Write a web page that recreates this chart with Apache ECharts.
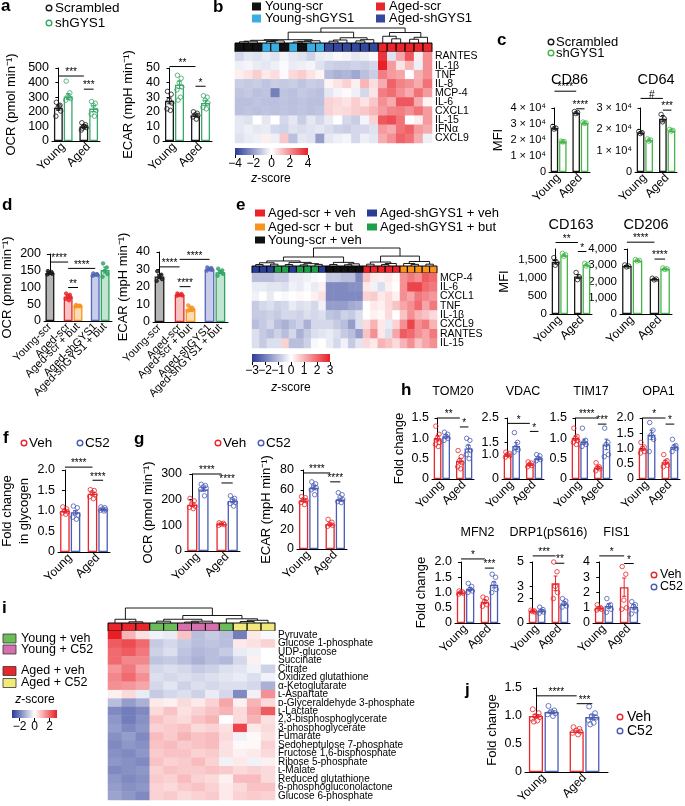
<!DOCTYPE html>
<html>
<head>
<meta charset="utf-8">
<script src="https://cdn.jsdelivr.net/npm/echarts@6/dist/echarts.min.js"></script>
<style>
  html, body { margin: 0; background: #fff; }
  #chart { width: 685px; height: 806px; }
</style>
</head>
<body>
<div id="chart"></div>
<script>
const FONT = 'Liberation Sans, Arial, Helvetica, sans-serif';
const BLK = '#1a1a1a', GRN = '#3aa86a', CGRN = '#45b64a', RED = '#e8262b', BLU = '#4a5db3';
const HEAT = ['#2b3c97', '#ffffff', '#e81f27'];

// ---------- bar chart data ----------
const ageGroups = ['Young', 'Aged'];

// a: Scrambled / shGYS1, young then aged
const aOcrMean = [228, 305, 100, 222];
const aOcrSem = [18, 20, 10, 20];
const aOcrDots = [[265, 245, 228, 205, 170, 240], [410, 330, 305, 290, 280, 300], [125, 112, 100, 92, 75, 100, 88], [270, 258, 245, 210, 185, 170]];
const aOcrSig = [[0, 2, 445, '***'], [2, 3, 355, '***']];
const aEcarMean = [27.5, 38.5, 17.5, 26];
const aEcarSem = [2, 2.5, 0.8, 1.8];
const aEcarDots = [[34, 32, 28, 26, 22, 21], [45, 43, 40, 37, 35, 30, 28], [20, 19, 18, 17.5, 16.5, 15], [31, 30, 28, 26, 23, 22]];
const aEcarSig = [[0, 2, 51, '**'], [2, 3, 37.5, '*']];

// c: MFI
const cd86Mean = [27500, 19000, 37000, 30700];
const cd86Sem = [800, 300, 500, 400];
const cd86Dots = [[28500, 27500, 26800], [19300, 19000, 18800], [37800, 37200, 36500], [31200, 30700, 30400]];
const cd86Sig = [[0, 2, 50500, '****'], [2, 3, 39500, '****']];
const cd64Mean = [18500, 15000, 25000, 19500];
const cd64Sem = [500, 500, 1500, 500];
const cd64Dots = [[19000, 18500, 18000], [15500, 15000, 14500], [27000, 25000, 23500], [20000, 19500, 19200]];
const cd64Sig = [[0, 2, 34500, '#'], [2, 3, 29000, '***']];
const cd163Mean = [1450, 1630, 1040, 1360];
const cd163Sem = [60, 30, 50, 20];
const cd163Dots = [[1560, 1420, 1350], [1680, 1640, 1600], [1150, 1030, 950], [1400, 1370, 1330]];
const cd163Sig = [[0, 2, 1980, '**'], [2, 3, 1730, '*']];
const cd206Mean = [2950, 3300, 2150, 2780];
const cd206Sem = [30, 20, 30, 20];
const cd206Dots = [[3020, 2950, 2900], [3350, 3300, 3270], [2200, 2150, 2100], [2830, 2780, 2750]];
const cd206Sig = [[0, 2, 4420, '****'], [2, 3, 3380, '****']];

// d: five treatment groups
const dLabels = ['Young-scr', 'Aged-scr', 'Aged-scr + but', 'Aged-shGYS1', 'Aged-shGYS1 + but'];
const dOcrMean = [143, 73, 45, 138, 152];
const dOcrSem = [3, 5, 2, 2, 9];
const dOcrDots = [[149, 146, 143, 141, 139], [82, 78, 74, 70, 66, 62], [48, 46, 45, 44, 43], [142, 140, 138, 137, 135], [172, 160, 150, 140, 132]];
const dOcrSig = [[0, 1, 176, '****'], [1, 3, 157, '****'], [1, 2, 100, '**']];
const dEcarMean = [26, 15.5, 7.5, 30, 28.5];
const dEcarSem = [1.2, 0.4, 1.5, 0.4, 0.8];
const dEcarDots = [[29, 27, 26, 24.5, 23.5], [16.3, 16, 15.5, 15.2, 15], [9.5, 8, 7.5, 7, 6.5], [31.2, 30.8, 30.3, 29.8, 29.4, 30], [30.5, 29.5, 28.5, 27.5, 26.5]];
const dEcarSig = [[0, 1, 31.5, '****'], [1, 3, 35.8, '****'], [1, 2, 20.2, '****']];

// f, g: Veh / C52
const fMean = [1.0, 0.97, 1.42, 1.04];
const fSem = [0.03, 0.04, 0.035, 0.015];
const fDots = [[1.1, 1.05, 1.0, 0.98, 0.95, 0.92], [1.12, 1.08, 0.95, 0.9, 0.85, 0.8], [1.52, 1.5, 1.45, 1.4, 1.35, 1.3], [1.1, 1.08, 1.05, 1.03, 1.02, 1.0]];
const fSig = [[0, 2, 2.07, '****'], [2, 3, 1.75, '****']];
const gOcrMean = [180, 240, 105, 195];
const gOcrSem = [7, 7, 2, 7];
const gOcrDots = [[205, 195, 185, 175, 170, 165], [260, 255, 250, 245, 240, 215], [110, 108, 105, 103, 100], [215, 205, 200, 190, 185, 175]];
const gOcrSig = [[0, 2, 300, '****'], [2, 3, 265, '****']];
const gEcarMean = [49, 62, 25, 50];
const gEcarSem = [1.2, 2, 1.2, 1.5];
const gEcarDots = [[53, 52, 50, 49, 47, 45], [68, 66, 64, 62, 60, 55], [30, 27, 25, 24, 23], [57, 55, 52, 50, 48, 47]];
const gEcarSig = [[0, 2, 77, '****'], [2, 3, 68, '****']];

// h: mitochondrial proteins
const tom20Mean = [1.0, 1.05, 0.45, 0.75], tom20Sem = [0.07, 0.04, 0.06, 0.08];
const tom20Dots = [[1.3, 1.1, 1.0, 0.9, 0.85, 0.8], [1.15, 1.1, 1.05, 1.0, 0.95], [0.7, 0.55, 0.45, 0.4, 0.3, 0.25], [1.0, 0.95, 0.8, 0.7, 0.6, 0.5]];
const tom20Sig = [[0, 2, 1.5, '**'], [2, 3, 1.28, '*']];
const vdacMean = [0.97, 1.35, 0.6, 0.85], vdacSem = [0.04, 0.14, 0.04, 0.05];
const vdacDots = [[1.1, 1.05, 1.0, 0.95, 0.9], [1.9, 1.5, 1.3, 1.2, 1.1], [0.7, 0.65, 0.6, 0.55, 0.5], [1.0, 0.95, 0.85, 0.8, 0.75]];
const vdacSig = [[0, 2, 2.28, '*'], [2, 3, 1.95, '*']];
const tim17Mean = [1.0, 0.92, 0.28, 0.85], tim17Sem = [0.06, 0.06, 0.03, 0.13];
const tim17Dots = [[1.25, 1.05, 1.0, 0.95, 0.9, 0.85], [1.25, 0.95, 0.9, 0.85, 0.8], [0.4, 0.3, 0.28, 0.25, 0.2], [1.25, 0.9, 0.85, 0.6, 0.55]];
const tim17Sig = [[0, 2, 1.5, '****'], [2, 3, 1.35, '***']];
const opa1Mean = [1.0, 1.45, 0.55, 1.05], opa1Sem = [0.07, 0.15, 0.07, 0.07];
const opa1Dots = [[1.2, 1.05, 1.0, 0.9, 0.85], [1.85, 1.6, 1.45, 1.3, 0.9], [0.8, 0.6, 0.55, 0.45, 0.4], [1.3, 1.1, 1.05, 1.0, 0.9]];
const opa1Sig = [[0, 2, 2.0, '*'], [2, 3, 1.8, '*']];
const mfn2Mean = [1.0, 1.12, 0.7, 1.25], mfn2Sem = [0.02, 0.05, 0.06, 0.1];
const mfn2Dots = [[1.05, 1.02, 1.0, 0.98, 0.95], [1.3, 1.2, 1.1, 1.05, 1.0], [0.85, 0.8, 0.7, 0.6, 0.55], [1.6, 1.5, 1.3, 1.1, 1.0]];
const mfn2Sig = [[0, 2, 2.1, '*'], [2, 3, 1.8, '***']];
const drp1Mean = [0.98, 1.02, 3.25, 1.6], drp1Sem = [0.03, 0.08, 0.6, 0.15];
const drp1Dots = [[1.05, 1.0, 0.95, 0.9], [1.3, 1.1, 1.0, 0.9, 0.8], [5.0, 4.2, 3.0, 2.5, 2.0], [2.0, 1.8, 1.6, 1.4, 1.3]];
const drp1Sig = [[0, 2, 5.5, '***'], [2, 3, 4.9, '**']];
const fis1Mean = [1.0, 1.12, 2.35, 1.05], fis1Sem = [0.07, 0.15, 0.6, 0.15];
const fis1Dots = [[1.2, 1.0, 0.95, 0.9, 0.85], [1.6, 1.2, 1.1, 0.9, 0.7], [3.7, 3.2, 1.5, 1.0, 0.9], [1.4, 1.2, 1.1, 0.8, 0.6]];
const fis1Sig = [[0, 2, 4.4, '*'], [2, 3, 3.9, '*']];

// j
const jMean = [1.0, 1.07, 0.72, 0.98], jSem = [0.025, 0.02, 0.015, 0.04];
const jDots = [[1.12, 1.05, 1.0, 0.98, 0.95, 0.92, 0.9], [1.18, 1.1, 1.08, 1.05, 1.03, 1.0], [0.8, 0.77, 0.74, 0.72, 0.7, 0.67], [1.17, 1.05, 1.0, 0.97, 0.93, 0.88, 0.85]];
const jSig = [[0, 2, 1.36, '****'], [2, 3, 1.22, '***']];

// ---------- heatmap data ----------
const bRows = ['RANTES', 'IL-1β', 'TNF', 'IL-8', 'MCP-4', 'IL-6', 'CXCL1', 'IL-15', 'IFNα', 'CXCL9'];
const bGroupNames = ['Young-scr', 'Young-shGYS1', 'Aged-scr', 'Aged-shGYS1'];
const bGroupColors = ['#111111', '#3aaee0', '#e8262b', '#33479e'];
const bGroups = [0, 0, 0, 1, 1, 0, 1, 0, 1, 1, 3, 3, 3, 3, 3, 3, 2, 2, 2, 2, 2, 2];
const bZ = [
  [-0.8, -0.5, -0.6, -0.4, -0.6, -0.2, -0.5, -0.6, -0.9, -0.4, -0.3, -0.1, -0.2, -0.5, -0.3, -0.1, 3.6, -0.6, 1.6, 3.0, 0.3, 2.0],
  [-0.3, -0.2, -0.4, -0.5, -0.3, -0.1, -0.4, -0.3, -0.2, -0.6, -0.9, -1.0, -1.0, -0.9, -1.0, -0.8, 4.0, 1.8, 0.5, 1.3, -0.3, 2.0],
  [0.3, 0.5, 0.9, 0.4, 0.6, 0.1, 0.7, 0.9, 0.5, 0.2, -1.4, -1.6, -1.5, -1.8, -1.3, -1.0, 2.3, 1.8, 1.6, 0.0, 1.4, 2.0],
  [-1.0, -1.1, -1.0, -1.2, -1.0, -1.1, -1.0, -1.2, -1.0, -1.1, 0.2, 0.5, 0.8, 0.3, 1.3, 0.6, 1.5, 2.8, 2.2, 2.0, 1.5, 2.5],
  [-1.2, -1.1, -1.3, -1.2, -2.6, -1.2, -1.3, -1.1, -1.2, -1.3, -0.5, -0.2, 0.1, -0.3, -0.8, 0.5, 2.3, 2.6, 2.0, 1.5, 2.5, 1.8],
  [-1.3, -1.3, -1.2, -1.3, -1.3, -1.2, -1.3, -1.2, -1.3, -1.3, 0.8, 0.7, 0.5, 0.9, 0.5, 1.0, 2.0, 1.5, 3.0, 3.0, 1.5, 0.2],
  [-1.3, -1.2, -1.3, -1.2, -1.3, -1.2, -1.3, -1.2, -1.3, -1.2, 0.8, 0.6, 0.7, 0.9, 1.0, 1.3, 1.8, 2.2, 2.3, 2.0, 2.5, 1.8],
  [-0.5, -0.6, 0.0, -0.5, 0.0, -0.8, -0.5, -1.0, -0.5, -0.8, -0.4, 0.0, -0.8, -1.0, -0.2, 0.8, 3.0, 3.2, 2.5, 0.0, 0.3, 1.8],
  [-0.5, -0.3, -0.5, -0.4, -0.8, -0.9, -0.6, -0.7, -0.6, -0.5, -0.7, -0.9, -1.0, -0.8, -0.8, -0.6, 1.8, 1.5, 2.5, 2.8, 1.8, 1.5],
  [-0.6, -0.4, -0.3, 0.3, -0.3, 1.0, -1.3, -0.5, -0.6, -2.0, -0.5, -0.3, -0.2, -0.8, -0.3, -0.5, 1.5, 2.0, 2.8, 2.5, 1.5, -0.3]
];
const bTree = [[[[[[0, 1, 0.08], 2, 0.12], [[3, 4, 0.1], 5, 0.14], 0.18], [[[6, 7, 0.07], 8, 0.11], 9, 0.15], 0.22],
  [[[10, 11, 0.12], 12, 0.2], [[13, 14, 0.14], 15, 0.22], 0.35], 0.72],
  [[16, [17, 18, 0.28], 0.45], [[19, 20, 0.25], 21, 0.38], 0.7], 1];
const bBarTicks = [-4, -2, 0, 2, 4];

const eRows = ['MCP-4', 'IL-6', 'CXCL1', 'TNF', 'IL-1β', 'CXCL9', 'RANTES', 'IL-15'];
const eGroupNames = ['Aged-scr + veh', 'Aged-scr + but', 'Young-scr + veh', 'Aged-shGYS1 + veh', 'Aged-shGYS1 + but'];
const eGroupColors = ['#ec2227', '#f7941d', '#111111', '#2a3d96', '#1ea04a'];
const eGroups = [3, 3, 3, 4, 4, 3, 4, 4, 4, 3, 2, 2, 2, 2, 2, 0, 0, 0, 0, 0, 1, 1, 1, 1, 1];
const eZ = [
  [-1.0, -1.0, -1.0, -0.8, -0.8, -0.3, -0.3, -0.2, -0.1, 0.0, -0.8, -0.8, -1.0, -1.0, -1.8, 0.8, 0.3, 0.2, 0.3, 0.1, 1.5, 1.8, 1.5, 2.2, 2.0],
  [-0.3, -0.3, -0.4, -0.4, -0.5, -0.2, -0.3, -0.1, -0.3, 0.2, -1.8, -1.8, -1.8, -1.7, -1.7, 0.3, -0.2, -0.5, 0.2, 0.0, 1.5, 2.5, 2.5, 2.0, 1.8],
  [-0.2, 0.0, -0.3, 0.0, -0.1, 0.0, 0.1, 0.0, 0.2, 0.4, -1.8, -1.8, -1.8, -1.8, -1.8, 0.6, 0.7, 0.3, 0.5, 0.2, 1.5, 1.2, 1.8, 1.6, 1.4],
  [-0.8, -0.6, -0.5, -0.7, -0.6, -0.3, -0.5, -0.4, -0.6, -0.2, -1.5, -1.5, -1.5, -1.3, -1.2, 0.0, 0.3, 0.2, 0.5, 0.8, 1.2, 1.5, 2.0, 1.2, 1.8],
  [-0.8, -0.8, -0.7, -0.8, -0.6, -0.6, -0.7, -0.5, -0.6, -0.5, -0.9, -1.0, -0.7, -0.8, -0.5, 0.0, 0.2, 0.1, 0.5, 0.0, 0.8, 1.5, 1.0, 0.8, 0.5],
  [-1.0, -0.8, -0.6, -1.0, -1.2, -0.9, -0.7, -1.2, -0.6, -0.6, -0.6, -0.8, -1.0, -1.5, -0.5, 0.5, 1.0, 0.3, -0.3, 0.6, 1.5, 2.5, 1.5, 1.8, 1.0],
  [-0.5, -0.8, -1.0, -0.7, -1.0, -0.6, -1.2, -0.8, -0.5, -0.4, -0.3, -0.5, -0.8, -1.0, -1.5, 0.8, 1.5, 0.3, -0.5, 1.2, 2.2, 2.0, 1.5, 1.2, 1.8],
  [-0.5, -0.8, -0.5, -0.5, 0.6, -1.0, -1.0, -0.7, -0.1, 0.0, -0.3, -0.6, -0.2, -0.8, -0.4, 0.5, 0.3, 1.0, 0.8, 0.5, 1.0, 1.5, 0.8, 1.2, 1.5]
];
const eTree = [[[[[0, 1, 0.08], [2, 3, 0.1], 0.18], [[4, 5, 0.08], [[6, 7, 0.06], [8, 9, 0.09], 0.13], 0.2], 0.28],
  [[10, 11, 0.08], [[12, 13, 0.07], 14, 0.12], 0.2], 0.5],
  [[[15, 16, 0.1], [[17, 18, 0.08], 19, 0.14], 0.22], [[20, [21, 22, 0.09], 0.14], [23, 24, 0.1], 0.25], 0.55], 1];
const eBarTicks = [-3, -2, -1, 0, 1, 2, 3];

const iRows = ['Pyruvate', 'Glucose 1-phosphate', 'UDP-glucose', 'Succinate', 'Citrate', 'Oxidized glutathione',
  'α-Ketoglutarate', 'ʟ-Aspartate', 'ᴅ-Glyceraldehyde 3-phosphate', 'ʟ-Lactate', '2,3-bisphosphoglycerate',
  '3-phosphoglycerate', 'Fumarate', 'Sedoheptulose 7-phosphate', 'Fructose 1,6-bisphosphate', 'Ribose 5-phosphate',
  'ʟ-Malate', 'Reduced glutathione', '6-phosphogluconolactone', 'Glucose 6-phosphate'];
const iGroupNames = ['Young + veh', 'Young + C52', 'Aged + veh', 'Aged + C52'];
const iGroupColors = ['#6cbd5a', '#d66fae', '#e8262b', '#f1ea7a'];
const iGroups = [2, 2, 2, 0, 0, 1, 1, 1, 0, 3, 3, 3];
const iZ = [
  [3.0, 1.0, 0.4, -0.2, -0.3, 0.8, -1.0, -0.8, -1.0, -2.0, 0.3, -0.1],
  [2.2, 2.4, 2.0, -0.8, -0.6, -0.8, -1.0, -0.9, -1.0, 0.3, 0.4, 0.6],
  [2.0, 2.2, 1.8, -0.7, -0.5, -0.9, -1.1, -1.0, -0.8, -0.3, -0.2, 0.0],
  [2.0, 1.6, 1.6, -0.9, -0.8, -1.0, -1.2, -1.0, -1.1, -0.6, 0.2, 0.0],
  [1.4, 1.8, 1.2, -0.6, -0.5, -0.6, -0.8, -0.7, -0.5, -0.4, -0.2, -0.7],
  [1.6, 2.0, 1.5, -0.5, -0.6, -0.5, -0.6, -0.5, -0.4, -0.3, -0.5, -0.2],
  [1.5, 1.4, 1.2, -0.6, -0.4, -0.7, -0.5, -0.6, -0.5, -0.5, -0.6, -1.2],
  [0.2, 0.5, -0.3, -0.8, -0.6, -0.5, -0.7, -0.3, -0.6, -1.8, -0.2, 1.5],
  [-1.0, -1.5, -1.2, 0.3, 0.2, 0.5, 0.3, 0.6, 1.2, 0.2, 1.0, 0.5],
  [-1.8, -2.0, -1.8, 0.5, 0.8, 0.4, 0.6, 0.8, 1.0, 0.5, 1.2, 2.2],
  [-1.6, -2.0, -1.7, 0.8, 0.6, 0.5, 0.8, 1.0, 0.0, 0.5, 1.0, 0.4],
  [-1.5, -1.8, -1.6, 0.6, 0.7, 0.8, 0.5, 0.6, 0.4, 2.5, 0.3, 0.5],
  [-1.7, -1.5, -1.8, 0.9, 0.7, 1.0, 0.8, 0.9, 0.5, -0.2, 0.1, 0.4],
  [-1.8, -1.6, -1.7, 0.8, 0.9, 0.7, 0.8, 0.9, 0.4, 0.1, 0.1, 0.6],
  [-1.7, -1.8, -1.6, 0.7, 0.8, 0.8, 0.6, 0.7, 0.4, 0.2, 0.3, 0.5],
  [-1.6, -1.7, -1.8, 0.8, 0.6, 0.7, 0.9, 0.6, -0.2, 0.3, -0.2, 0.2],
  [-1.8, -1.7, -1.6, 0.6, 0.8, 0.7, 0.7, 0.8, 0.7, 0.5, 0.6, 0.5],
  [-1.6, -1.8, -1.7, 0.7, 0.6, 0.9, 0.6, 0.5, 0.2, 0.9, 0.9, 0.5],
  [-1.5, -1.7, -1.6, 0.6, 0.5, 0.7, 0.8, 0.6, 0.3, 0.5, 0.8, 0.8],
  [-1.4, -1.6, -1.8, 0.6, 0.7, 0.5, 0.6, 0.7, 0.3, 0.6, 0.7, 0.6]
];
const iTree = [[0, [1, 2, 0.08], 0.25], [[[3, 4, 0.12], [[5, 6, 0.06], 7, 0.12], 0.25], [8, [[9, 10, 0.1], 11, 0.18], 0.28], 0.5], 1];
const iBarTicks = [-2, 0, 2];

// ---------- builders ----------
const grids = [], xAxes = [], yAxes = [], series = [], visualMaps = [], graphics = [];
const JIT = [-0.24, 0.2, -0.04, 0.28, -0.3, 0.1, -0.16];
const POS4 = [0, 1, 2.6, 3.6];
const POS5 = [0, 1.85, 2.85, 4.6, 5.6];

function addGrid(rect, xa, ya) {
  grids.push(Object.assign({ containLabel: false, outerBoundsMode: 'none' }, rect));
  xa.gridIndex = grids.length - 1;
  ya.gridIndex = grids.length - 1;
  xAxes.push(xa); yAxes.push(ya);
  return { xAxisIndex: xAxes.length - 1, yAxisIndex: yAxes.length - 1 };
}

function txt(x, y, text, o = {}) {
  graphics.push({ type: 'text', x, y, rotation: o.rot || 0, silent: true,
    style: { text, fill: o.color || '#000', font: (o.weight || 'normal') + ' ' + (o.size || 13) + 'px ' + FONT,
      align: o.align || 'left', verticalAlign: o.va || 'middle', rich: o.rich } });
}
function circ(x, y, color) {
  graphics.push({ type: 'circle', shape: { cx: x, cy: y, r: 2.8 }, silent: true, style: { fill: '#fff', stroke: color, lineWidth: 1.4 } });
}
function sq(x, y, w, h, color, stroke) {
  graphics.push({ type: 'rect', shape: { x, y, width: w, height: h }, silent: true, style: { fill: color, stroke: stroke || null, lineWidth: 0.8 } });
}

const fmt1 = v => v === 0 ? '0' : v.toFixed(1);
const fmtE4 = v => v === 0 ? '0' : (v / 1e4) + ' × 10⁴';
const fmtMinus = v => v < 0 ? '−' + (-v) : String(v);

function barPanel(p) {
  const pos = p.pos || POS4, xmin = p.xmin ?? -0.65, xmax = p.xmax ?? 4.25;
  const w = p.right - p.left, unit = w / (xmax - xmin);
  const lab = p.labelPos || [(pos[0] + pos[1]) / 2, (pos[2] + pos[3]) / 2];
  // blank labels at both ends keep ECharts from dropping the real first/last label
  const ax = addGrid({ left: p.left, top: p.top, width: w, height: p.bottom - p.top },
    { type: 'value', min: xmin, max: xmax, splitLine: { show: false }, axisTick: { show: false },
      axisLine: { show: true, onZero: false, lineStyle: { color: '#000', width: 1 } },
      axisLabel: { customValues: [xmin].concat(lab, [xmax]), rotate: 45, fontSize: p.xfs || 12, color: '#000', margin: 4,
        formatter: v => p.labels[lab.findIndex(q => Math.abs(q - v) < 1e-6)] || '' } },
    { type: 'value', min: 0, max: p.ymax, interval: p.yint, splitLine: { show: false },
      axisLine: { show: true, lineStyle: { color: '#000', width: 1 } },
      axisTick: { show: true, length: 3, lineStyle: { color: '#000' }, customValues: p.yTicks },
      axisLabel: { fontSize: p.yfs || 12.5, color: '#000', margin: 3, formatter: p.yfmt, customValues: p.yTicks,
        showMinLabel: true, showMaxLabel: true },
      name: p.yName || '', nameLocation: 'middle', nameRotate: 90,
      nameGap: p.yName ? p.left - p.nameX - (p.yName.includes('\n') ? 15 : 7) : 0,
      nameTextStyle: { fontSize: 13, color: '#000', lineHeight: 17, fontFamily: FONT } });
  const fill = p.fill || p.stroke.map(() => '#fff');
  series.push(Object.assign({ type: 'bar', barWidth: unit * 0.9, silent: true, z: 2,
    data: p.means.map((m, g) => ({ value: [pos[g], m], itemStyle: { color: fill[g], borderColor: p.stroke[g], borderWidth: 1.3 } })) }, ax));
  const dots = [];
  p.dots.forEach((arr, g) => arr.forEach((v, k) => dots.push({ value: [pos[g] + JIT[k % JIT.length] * 0.85, v],
    itemStyle: { color: p.filledDots ? p.stroke[g] : 'rgba(255,255,255,0)', borderColor: p.stroke[g], borderWidth: 1 } })));
  series.push(Object.assign({ type: 'scatter', symbolSize: p.dotSize || 4.5, clip: false, silent: true, z: 3, data: dots }, ax));
  series.push(Object.assign({ type: 'custom', silent: true, z: 4, clip: false,
    data: p.means.map((m, g) => [pos[g], m - p.sem[g], m + p.sem[g], g]),
    renderItem: (pr, api) => {
      const lo = api.coord([api.value(0), api.value(1)]), hi = api.coord([api.value(0), api.value(2)]);
      const c = p.stroke[api.value(3)], cw = unit * 0.22;
      const st = { stroke: c, lineWidth: 1 };
      return { type: 'group', children: [
        { type: 'line', shape: { x1: lo[0], y1: lo[1], x2: hi[0], y2: hi[1] }, style: st },
        { type: 'line', shape: { x1: hi[0] - cw, y1: hi[1], x2: hi[0] + cw, y2: hi[1] }, style: st },
        { type: 'line', shape: { x1: lo[0] - cw, y1: lo[1], x2: lo[0] + cw, y2: lo[1] }, style: st }] };
    } }, ax));
  const sigText = p.sig.map(s => s[3]);
  series.push(Object.assign({ type: 'custom', silent: true, z: 5, clip: false,
    data: p.sig.map((s, k) => [pos[s[0]], pos[s[1]], s[2], k]),
    renderItem: (pr, api) => {
      const a = api.coord([api.value(0), api.value(2)]), b = api.coord([api.value(1), api.value(2)]);
      return { type: 'group', children: [
        { type: 'line', shape: { x1: a[0], y1: a[1], x2: b[0], y2: b[1] }, style: { stroke: '#000', lineWidth: 1 } },
        { type: 'text', x: (a[0] + b[0]) / 2, y: a[1] + 1.5, style: { text: sigText[api.value(3)], fill: '#000',
          font: '10px ' + FONT, align: 'center', verticalAlign: 'bottom' } }] };
    } }, ax));
  if (p.title) txt(p.left + w / 2, p.titleY, p.title, { size: p.titleSize || 12.5, align: 'center' });
}

function dendro(node, links) {
  if (typeof node === 'number') return { x: node, h: 0 };
  const a = dendro(node[0], links), b = dendro(node[1], links);
  links.push([a.x, b.x, a.h, b.h, node[2]]);
  return { x: (a.x + b.x) / 2, h: node[2] };
}

function heatPanel(h) {
  const n = h.z[0].length, ymin = -h.stripH / h.dendH;
  const ax1 = addGrid({ left: h.left, top: h.top - h.stripH - h.dendH, width: h.width, height: h.stripH + h.dendH },
    { type: 'value', min: -0.5, max: n - 0.5, show: false }, { type: 'value', min: ymin, max: 1, show: false });
  const links = [];
  dendro(h.tree, links);
  series.push(Object.assign({ type: 'custom', silent: true, data: links,
    renderItem: (pr, api) => {
      const pts = [[api.value(0), api.value(2)], [api.value(0), api.value(4)], [api.value(1), api.value(4)], [api.value(1), api.value(3)]].map(q => api.coord(q));
      return { type: 'polyline', shape: { points: pts }, style: { stroke: '#000', fill: 'none', lineWidth: 0.9 } };
    } }, ax1));
  series.push(Object.assign({ type: 'custom', silent: true, data: h.groups.map((g, i) => [i, g]),
    renderItem: (pr, api) => {
      const a = api.coord([api.value(0) - 0.5, 0]), b = api.coord([api.value(0) + 0.5, ymin]);
      return { type: 'rect', shape: { x: a[0], y: a[1], width: b[0] - a[0], height: b[1] - a[1] },
        style: { fill: h.colors[api.value(1)], stroke: '#000', lineWidth: 1 } };
    } }, ax1));
  const ax2 = addGrid({ left: h.left, top: h.top, width: h.width, height: h.height },
    { type: 'category', data: h.z[0].map((v, i) => i), show: false },
    { type: 'category', data: h.rows, inverse: true, position: 'right', axisLine: { show: false }, axisTick: { show: false },
      axisLabel: { interval: 0, fontSize: h.labelFs, color: '#000', margin: 3, fontFamily: FONT } });
  const data = [];
  h.z.forEach((row, r) => row.forEach((v, c) => data.push([c, r, v])));
  visualMaps.push({ type: 'continuous', min: h.min, max: h.max, seriesIndex: series.length, show: false, inRange: { color: HEAT } });
  series.push(Object.assign({ type: 'heatmap', silent: true, data }, ax2));
  // colour bar: gradient grid background, integer steps as a category axis so every label shows
  const cb = h.bar, steps = [];
  for (let v = h.min; v <= h.max; v++) steps.push(cb.ticks.includes(v) ? fmtMinus(v) : '');
  addGrid({ left: cb.left, top: cb.top, width: cb.width, height: cb.height, show: true, borderWidth: 0,
    backgroundColor: new echarts.graphic.LinearGradient(0, 0, 1, 0, [{ offset: 0, color: HEAT[0] }, { offset: 0.5, color: HEAT[1] }, { offset: 1, color: HEAT[2] }]) },
    { type: 'category', data: steps, boundaryGap: false, axisLine: { show: false },
      axisTick: { show: true, length: 3, interval: (i, val) => val !== '', lineStyle: { color: '#000' } },
      axisLabel: { fontSize: 12, color: '#000', margin: 3, interval: 0 } },
    { type: 'value', show: false, min: 0, max: 1 });
  txt(cb.zx, cb.zy, '{i|z}-score', { size: 12, align: 'center', rich: { i: { fontStyle: 'italic', fontSize: 12, fontFamily: FONT } } });
}

// ---------- panels ----------
const SC = [BLK, GRN, BLK, GRN], SCc = [BLK, CGRN, BLK, CGRN], VC = [RED, BLU, RED, BLU];

barPanel({ left: 52, right: 100, top: 68, bottom: 141, ymax: 500, yint: 100, means: aOcrMean, sem: aOcrSem, dots: aOcrDots, sig: aOcrSig, stroke: SC, labels: ageGroups, yName: 'OCR (pmol min⁻¹)', nameX: 13 });
barPanel({ left: 163, right: 212, top: 68, bottom: 141, ymax: 50, yint: 10, means: aEcarMean, sem: aEcarSem, dots: aEcarDots, sig: aEcarSig, stroke: SC, labels: ageGroups, yName: 'ECAR (mpH min⁻¹)', nameX: 130 });

barPanel({ left: 549, right: 590, top: 108, bottom: 172, ymax: 40000, yint: 10000, yfmt: fmtE4, yfs: 11, means: cd86Mean, sem: cd86Sem, dots: cd86Dots, sig: cd86Sig, stroke: SCc, labels: ageGroups, title: 'CD86', titleY: 80, titleSize: 14.5, yName: 'MFI', nameX: 501 });
barPanel({ left: 635, right: 677, top: 108, bottom: 172, ymax: 30000, yint: 10000, yfmt: fmtE4, yfs: 11, means: cd64Mean, sem: cd64Sem, dots: cd64Dots, sig: cd64Sig, stroke: SCc, labels: ageGroups, title: 'CD64', titleY: 80, titleSize: 14.5 });
barPanel({ left: 550, right: 592, top: 249, bottom: 314, ymax: 1800, yint: 500, yTicks: [0, 500, 1000, 1500], yfs: 11.5, means: cd163Mean, sem: cd163Sem, dots: cd163Dots, sig: cd163Sig, stroke: SCc, labels: ageGroups, title: 'CD163', titleY: 225, titleSize: 14.5, yName: 'MFI', nameX: 506 });
barPanel({ left: 620, right: 672, top: 249, bottom: 314, ymax: 4000, yint: 1000, yfs: 11.5, means: cd206Mean, sem: cd206Sem, dots: cd206Dots, sig: cd206Sig, stroke: SCc, labels: ageGroups, title: 'CD206', titleY: 225, titleSize: 14.5 });

const dStroke = ['#1a1a1a', '#e8262b', '#f7941d', '#5566b8', '#2fa565'];
const dFill = ['#b5b5b5', '#f7c4c4', '#fddcb0', '#c8cdeb', '#c2e5cf'];
barPanel({ left: 44, right: 112, top: 254, bottom: 321, ymax: 200, yint: 50, pos: POS5, xmin: -0.6, xmax: 6.3, labelPos: POS5, labels: dLabels, xfs: 11, means: dOcrMean, sem: dOcrSem, dots: dOcrDots, sig: dOcrSig, stroke: dStroke, fill: dFill, filledDots: true, dotSize: 3.5, yName: 'OCR (pmol min⁻¹)', nameX: 10 });
barPanel({ left: 153, right: 228, top: 252, bottom: 322, ymax: 40, yint: 10, pos: POS5, xmin: -0.6, xmax: 6.3, labelPos: POS5, labels: dLabels, xfs: 11, means: dEcarMean, sem: dEcarSem, dots: dEcarDots, sig: dEcarSig, stroke: dStroke, fill: dFill, filledDots: true, dotSize: 3.5, yName: 'ECAR (mpH min⁻¹)', nameX: 131 });

barPanel({ left: 58, right: 110, top: 470, bottom: 552, ymax: 2, yint: 0.5, yfmt: fmt1, means: fMean, sem: fSem, dots: fDots, sig: fSig, stroke: VC, labels: ageGroups, yName: 'Fold change\nin glycogen', nameX: 18 });
barPanel({ left: 185, right: 240, top: 474, bottom: 551, ymax: 300, yint: 100, means: gOcrMean, sem: gOcrSem, dots: gOcrDots, sig: gOcrSig, stroke: VC, labels: ageGroups, yName: 'OCR (pmol min⁻¹)', nameX: 153 });
barPanel({ left: 297, right: 347, top: 470, bottom: 549, ymax: 80, yint: 20, means: gEcarMean, sem: gEcarSem, dots: gEcarDots, sig: gEcarSig, stroke: VC, labels: ageGroups, yName: 'ECAR (mpH min⁻¹)', nameX: 268 });

barPanel({ left: 432, right: 474, top: 418, bottom: 479, ymax: 1.5, yint: 0.5, yfmt: fmt1, means: tom20Mean, sem: tom20Sem, dots: tom20Dots, sig: tom20Sig, stroke: VC, labels: ageGroups, title: 'TOM20', titleY: 392, yName: 'Fold change', nameX: 410 });
barPanel({ left: 502, right: 544, top: 418, bottom: 479, ymax: 2.5, yint: 0.5, yfmt: fmt1, means: vdacMean, sem: vdacSem, dots: vdacDots, sig: vdacSig, stroke: VC, labels: ageGroups, title: 'VDAC', titleY: 392 });
barPanel({ left: 570, right: 612, top: 418, bottom: 479, ymax: 1.5, yint: 0.5, yfmt: fmt1, means: tim17Mean, sem: tim17Sem, dots: tim17Dots, sig: tim17Sig, stroke: VC, labels: ageGroups, title: 'TIM17', titleY: 392 });
barPanel({ left: 637, right: 680, top: 418, bottom: 479, ymax: 2, yint: 0.5, yfmt: fmt1, means: opa1Mean, sem: opa1Sem, dots: opa1Dots, sig: opa1Sig, stroke: VC, labels: ageGroups, title: 'OPA1', titleY: 392 });
barPanel({ left: 455, right: 500, top: 562, bottom: 623, ymax: 2, yint: 0.5, yfmt: fmt1, means: mfn2Mean, sem: mfn2Sem, dots: mfn2Dots, sig: mfn2Sig, stroke: VC, labels: ageGroups, title: 'MFN2', titleY: 533, yName: 'Fold change', nameX: 423 });
barPanel({ left: 527, right: 570, top: 562, bottom: 623, ymax: 5, yint: 1, means: drp1Mean, sem: drp1Sem, dots: drp1Dots, sig: drp1Sig, stroke: VC, labels: ageGroups, title: 'DRP1(pS616)', titleY: 533 });
barPanel({ left: 593, right: 640, top: 562, bottom: 623, ymax: 4, yint: 1, means: fis1Mean, sem: fis1Sem, dots: fis1Dots, sig: fis1Sig, stroke: VC, labels: ageGroups, title: 'FIS1', titleY: 533 });

barPanel({ left: 525, right: 608, top: 688, bottom: 772, ymax: 1.5, yint: 0.5, yfmt: fmt1, xmin: -0.7, xmax: 4.6, means: jMean, sem: jSem, dots: jDots, sig: jSig, stroke: VC, labels: ageGroups, yName: 'Fold change', nameX: 495, dotSize: 5 });

heatPanel({ left: 235, top: 52, width: 197, height: 91, stripH: 9, dendH: 15, min: -4, max: 4, labelFs: 10.5,
  rows: bRows, z: bZ, groups: bGroups, colors: bGroupColors, tree: bTree,
  bar: { left: 235, top: 148, width: 73, height: 7, ticks: bBarTicks, zx: 271, zy: 179 } });
heatPanel({ left: 252, top: 273, width: 185, height: 75, stripH: 7, dendH: 18, min: -3, max: 3, labelFs: 10.5,
  rows: eRows, z: eZ, groups: eGroups, colors: eGroupColors, tree: eTree,
  bar: { left: 252, top: 354, width: 78, height: 8, ticks: eBarTicks, zx: 291, zy: 388 } });
heatPanel({ left: 108, top: 631, width: 167, height: 169, stripH: 8, dendH: 15, min: -3, max: 3, labelFs: 10,
  rows: iRows, z: iZ, groups: iGroups, colors: iGroupColors, tree: iTree,
  bar: { left: 12, top: 710, width: 45, height: 8, ticks: iBarTicks, zx: 35, zy: 700 } });

// ---------- letters and legends ----------
[['a', 1, -2], ['b', 213, -1], ['c', 497, 32], ['d', 2, 197], ['e', 236, 197], ['f', 3, 430], ['g', 134, 431],
 ['h', 401, 382], ['i', 2, 600], ['j', 465, 682]].forEach(l => txt(l[1], l[2], l[0], { size: 17, weight: 'bold', va: 'top' }));

circ(49, 8, BLK); txt(55, 8, 'Scrambled', { size: 13.5 });
circ(49, 23, GRN); txt(55, 23, 'shGYS1', { size: 13.5 });

[[252, 6.5, 0], [252, 18.5, 1], [376, 6.5, 2], [376, 18.5, 3]].forEach(r => {
  sq(r[0], r[1] - 4, 9, 8, bGroupColors[r[2]]); txt(r[0] + 13, r[1], bGroupNames[r[2]], { size: 13 });
});

circ(551, 42, BLK); txt(556, 42, 'Scrambled', { size: 13 });
circ(551, 53, CGRN); txt(556, 53, 'shGYS1', { size: 13 });

[[255, 213, 0], [255, 227, 1], [255, 240, 2], [367, 213, 3], [367, 227, 4]].forEach(r => {
  sq(r[0], r[1] - 3.5, 10, 7, eGroupColors[r[2]]); txt(r[0] + 13, r[1], eGroupNames[r[2]], { size: 13 });
});

circ(24, 443, RED); txt(29, 443, 'Veh', { size: 13.5 });
circ(80, 443, BLU); txt(85, 443, 'C52', { size: 13.5 });
circ(218, 443, RED); txt(223, 443, 'Veh', { size: 13.5 });
circ(261, 443, BLU); txt(266, 443, 'C52', { size: 13.5 });
circ(654, 575, RED); txt(660, 575, 'Veh', { size: 12.5 });
circ(654, 587, BLU); txt(660, 587, 'C52', { size: 12.5 });
circ(620, 717, RED); txt(627, 717, 'Veh', { size: 14 });
circ(620, 731, BLU); txt(627, 731, 'C52', { size: 14 });

[[638.5, 0], [649.5, 1], [671, 2], [683, 3]].forEach(r => {
  sq(3, r[0] - 4.5, 13, 9, iGroupColors[r[1]], '#333'); txt(21, r[0], iGroupNames[r[1]], { size: 12.5 });
});

const chart = echarts.init(document.getElementById('chart'), null, { renderer: 'canvas' });
chart.setOption({
  animation: false,
  backgroundColor: '#fff',
  textStyle: { fontFamily: FONT },
  grid: grids,
  xAxis: xAxes,
  yAxis: yAxes,
  visualMap: visualMaps,
  series,
  graphic: { elements: graphics }
});
</script>
</body>
</html>
